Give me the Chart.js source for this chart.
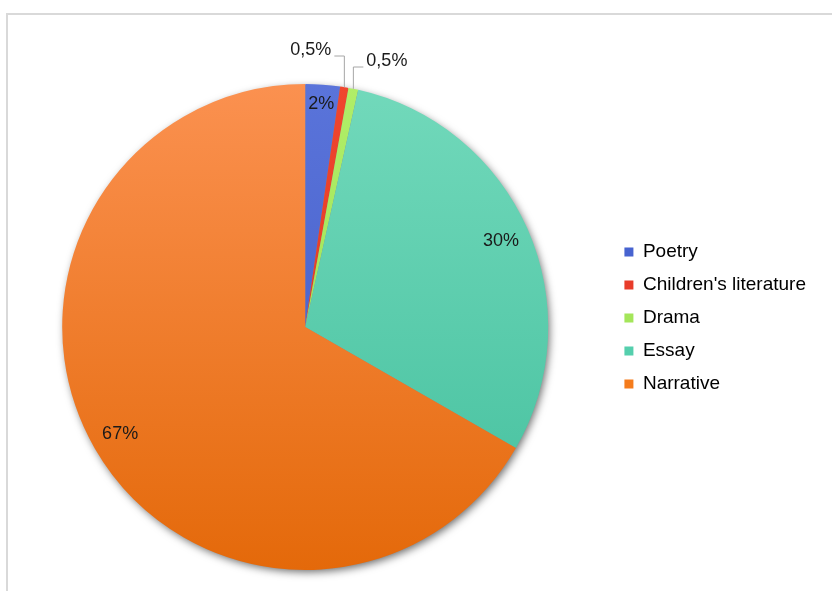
<!DOCTYPE html>
<html>
<head>
<meta charset="utf-8">
<script src="https://cdn.jsdelivr.net/npm/chart.js@4.4.1/dist/chart.umd.min.js"></script>
<style>
  html, body { margin: 0; padding: 0; background: #fff; overflow: hidden; }
  #frame { position: absolute; left: 6px; top: 13px; width: 900px; height: 700px; border: 2px solid #d9d9d9; }
  #wrap { position: absolute; left: 0; top: 0; width: 832px; height: 591px; }
</style>
</head>
<body>
<div id="frame"></div>
<div id="wrap"><canvas id="chart" width="832" height="591"></canvas></div>
<script>
// --- Dados ---
const categories = ['Poetry', "Children's literature", 'Drama', 'Essay', 'Narrative'];
const shares = [2.3, 0.55, 0.65, 29.8, 66.7];
const shareLabels = ['2%', '0,5%', '0,5%', '30%', '67%'];

// cores: [topo, base] de cada fatia
const topColors = ['#5a74da', '#f0462e', '#b0ee68', '#72d9bb', '#fb9150'];
const bottomColors = ['#3f58c4', '#d83222', '#96dc4c', '#43bf9d', '#e4690a'];
const legendColors = ['#4763d0', '#e83c2a', '#a4e65a', '#55cfad', '#f57c1c'];

const FONT = '"Liberation Sans", Arial, sans-serif';

const el = id => document.getElementById(id);

const sliceFill = (ctx) => {
  const chart = ctx.chart;
  const area = chart.chartArea;
  if (!area) return legendColors[ctx.dataIndex];
  const g = chart.ctx.createLinearGradient(0, area.top, 0, area.bottom);
  g.addColorStop(0, topColors[ctx.dataIndex]);
  g.addColorStop(1, bottomColors[ctx.dataIndex]);
  return g;
};

// sombra atrás da pizza
const pieShadow = {
  id: 'pieShadow',
  beforeDatasetsDraw(chart) {
    const arc = chart.getDatasetMeta(0).data[0];
    if (!arc) return;
    const c = chart.ctx;
    c.save();
    c.shadowColor = 'rgba(0,0,0,0.6)';
    c.shadowBlur = 8;
    c.shadowOffsetX = 2;
    c.shadowOffsetY = 3;
    c.fillStyle = '#888';
    c.beginPath();
    c.arc(arc.x, arc.y, arc.outerRadius - 1, 0, Math.PI * 2);
    c.fill();
    c.restore();
  }
};

// rótulos das fatias (dentro ou fora com linha guia)
const sliceLabels = {
  id: 'sliceLabels',
  afterDatasetsDraw(chart) {
    const c = chart.ctx;
    const arcs = chart.getDatasetMeta(0).data;
    c.save();
    c.font = '18px ' + FONT;
    c.fillStyle = '#1a1a1a';
    arcs.forEach((a, i) => {
      const mid = (a.startAngle + a.endAngle) / 2;
      const R = a.outerRadius;
      if (shares[i] < 1) {
        // fora: linha vertical para cima e depois para o lado
        const side = i === 1 ? -1 : 1;
        const rise = i === 1 ? 28 : 17;
        const x0 = a.x + Math.cos(mid) * R;
        const y0 = a.y + Math.sin(mid) * R;
        const yTop = a.y - R - rise;
        const x1 = x0 + side * 10;
        c.strokeStyle = '#a6a6a6';
        c.lineWidth = 1;
        c.beginPath();
        c.moveTo(x0, y0);
        c.lineTo(x0, yTop);
        c.lineTo(x1, yTop);
        c.stroke();
        c.textAlign = side < 0 ? 'right' : 'left';
        c.textBaseline = 'middle';
        c.fillText(shareLabels[i], x1 + side * 3, yTop - 6);
      } else {
        const f = i === 0 ? 0.92 : 0.88;
        c.textAlign = 'center';
        c.textBaseline = 'middle';
        c.fillText(shareLabels[i], a.x + Math.cos(mid) * R * f, a.y + Math.sin(mid) * R * f);
      }
    });
    c.restore();
  }
};

// sobe um pouco a legenda
const legendNudge = {
  id: 'legendNudge',
  afterLayout(chart) {
    if (!chart.legend) return;
    chart.legend.top -= 9;
    chart.legend.bottom -= 9;
  }
};

new Chart(el('chart'), {
  type: 'pie',
  data: {
    labels: categories,
    datasets: [{
      data: shares,
      backgroundColor: sliceFill,
      borderWidth: 0
    }]
  },
  options: {
    responsive: false,
    animation: false,
    layout: { padding: { top: 84, bottom: 21, left: 0, right: 16 } },
    plugins: {
      legend: {
        position: 'right',
        labels: {
          boxWidth: 9,
          boxHeight: 9,
          padding: 14,
          color: '#1a1a1a',
          font: { size: 19, family: FONT },
          generateLabels(chart) {
            return categories.map((name, i) => ({
              text: name,
              fillStyle: legendColors[i],
              strokeStyle: legendColors[i],
              lineWidth: 0,
              hidden: false,
              index: i
            }));
          }
        }
      },
      tooltip: { enabled: false }
    }
  },
  plugins: [pieShadow, sliceLabels, legendNudge]
});
</script>
</body>
</html>
